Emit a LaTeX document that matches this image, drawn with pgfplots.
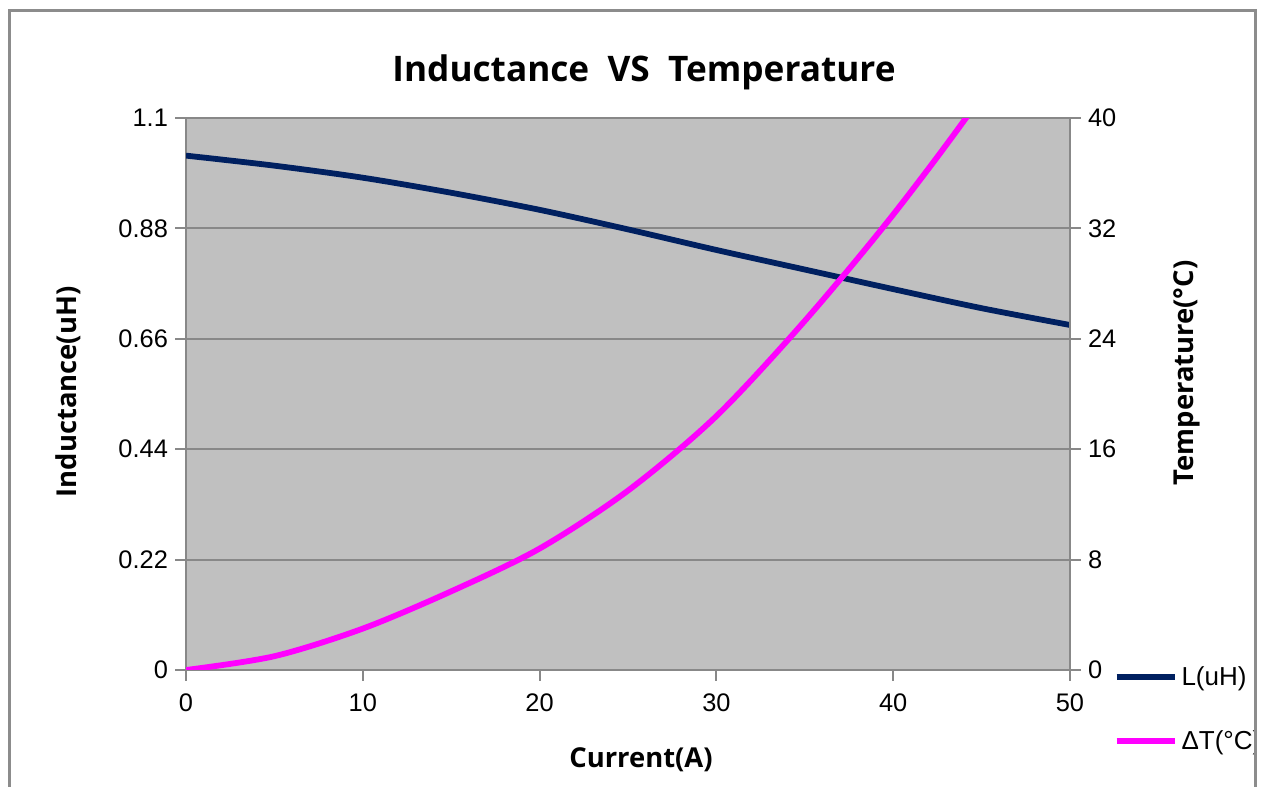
\documentclass[border=0pt]{standalone}
\usepackage{pgfplots}
\pgfplotsset{compat=1.18}
\usepackage{fontspec}
\setmainfont{Liberation Sans}
\newfontfamily\labelfont{Open Sans}
\definecolor{indNavy}{RGB}{0,32,96}
\definecolor{tempMag}{RGB}{255,0,255}
\definecolor{plotBg}{RGB}{192,192,192}
\definecolor{gridGray}{RGB}{136,136,136}
\definecolor{frameGray}{RGB}{140,140,140}

% inductance (uH) and temperature rise (C) against current (A)
\pgfplotstableread{
x   L
0   1.025
5   1.005
10  0.981
15  0.951
20  0.917
25  0.878
30  0.837
35  0.798
40  0.759
45  0.721
50  0.6875
}\indtable
\pgfplotstableread{
x   T
0   0.0
5   1.0
10  3.0
15  5.7
20  8.8
25  13.0
30  18.4
35  25.3
40  33.0
45  41.6
50  51.5
}\temptable

\pgfplotsset{
  commonaxis/.style={
    at={(93pt,58.5pt)}, anchor=south west,
    scale only axis, width=442pt, height=276pt,
    xmin=0, xmax=50,
    tick align=outside,
    major tick length=5.5pt,
    tick style={draw=gridGray, line width=1pt},
    axis line style={draw=gridGray, line width=1pt},
    ticklabel style={font=\fontsize{12.7}{15}\selectfont},
    /pgf/number format/assume math mode=true,
  }
}

\begin{document}
\begin{tikzpicture}
  \useasboundingbox (0,0) rectangle (632.5pt,393.5pt);
  \begin{axis}[
    commonaxis,
    ymin=0, ymax=1.1,
    xtick={0,10,...,50},
    ytick={0,0.22,0.44,0.66,0.88,1.1},
    yticklabels={0,0.22,0.44,0.66,0.88,1.1},
    xtick pos=bottom, ytick pos=left,
    xticklabel style={yshift=-3pt},
    axis background/.style={fill=plotBg},
    ymajorgrids,
    grid style={draw=gridGray, line width=1pt},
  ]
    \addplot[indNavy, line width=2.9pt, smooth] table[x=x,y=L] {\indtable};
  \end{axis}
  \begin{axis}[
    commonaxis,
    ymin=0, ymax=40,
    ytick={0,8,...,40},
    axis y line*=right,
    axis x line=none,
    legend cell align=left,
    legend style={at={(rel axis cs:1.049,0.0145)}, anchor=north west,
      draw=none, fill=none, inner sep=0pt, row sep=17pt,
      font=\fontsize{13}{15}\selectfont},
    legend image code/.code={\draw[#1] (0pt,0pt) -- (29pt,0pt);},
  ]
    \addlegendimage{indNavy, line width=2.9pt}
    \addlegendentry{L(uH)}
    \addplot[tempMag, line width=2.9pt, smooth] table[x=x,y=T] {\temptable};
    \addlegendentry{ΔT(°C)}
  \end{axis}

  \node[font=\labelfont\bfseries\fontsize{17.6}{20}\selectfont] at (322pt,357.5pt)
    {Inductance\ \ VS\ \ Temperature};
  \node[font=\labelfont\bfseries\fontsize{13.7}{16}\selectfont, rotate=90] at (34pt,197.5pt)
    {Inductance(uH)};
  \node[font=\labelfont\bfseries\fontsize{13.7}{16}\selectfont, rotate=90] at (593.5pt,207pt)
    {Temperature(°C)};
  \node[font=\labelfont\bfseries\fontsize{13.7}{16}\selectfont] at (320.5pt,13.5pt)
    {Current(A)};

  % outer frame, cut by the bottom of the picture
  \fill[white] (628.5pt,-5pt) rectangle (640pt,400pt);
  \draw[frameGray, line width=1.5pt] (4.5pt,-5pt) -- (4.5pt,388.25pt)
    -- (627.75pt,388.25pt) -- (627.75pt,-5pt);
\end{tikzpicture}
\end{document}
